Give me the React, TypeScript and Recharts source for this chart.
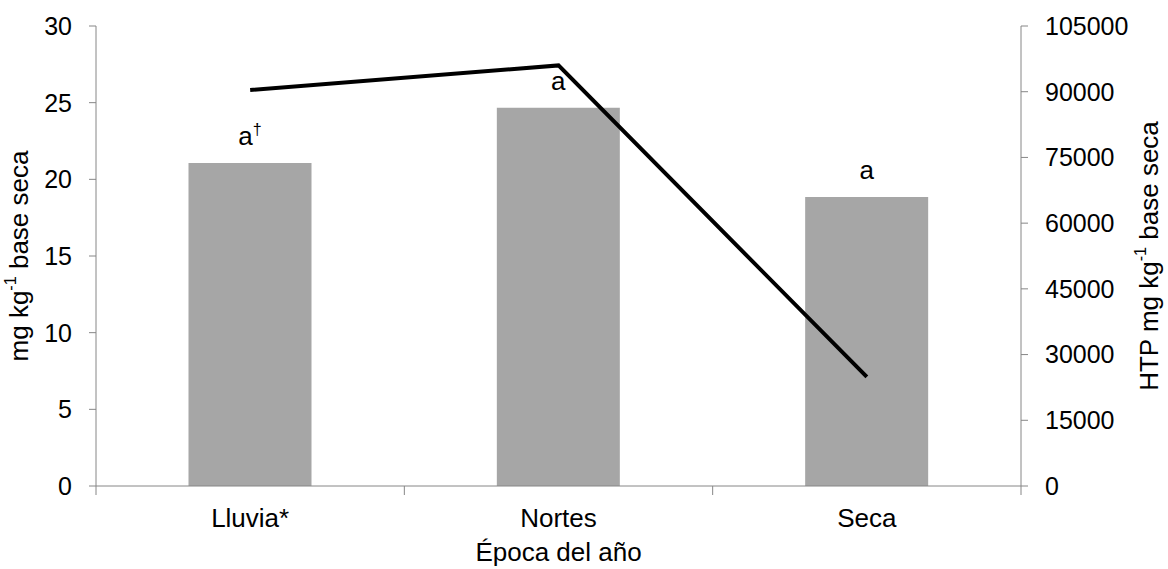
import React from 'react';
import { ComposedChart, Bar, Line, XAxis, YAxis, LabelList } from 'recharts';

const categories = ['Lluvia*', 'Nortes', 'Seca'];
const barValues = [21.07, 24.67, 18.85];
const lineValues = [90400, 96000, 24900];
const barLabels = ['a', 'a', 'a'];
const barLabelSups = ['†', '', ''];
const leftTicks = [0, 5, 10, 15, 20, 25, 30];
const rightTicks = [0, 15000, 30000, 45000, 60000, 75000, 90000, 105000];
const leftTitle = ['mg kg', '-1', ' base seca'];
const rightTitle = ['HTP mg kg', '-1', ' base seca'];
const xTitle = 'Época del año';

const data = categories.map((c, i) => ({ name: c, bar: barValues[i], line: lineValues[i] }));

const FONT = '"Liberation Sans", Arial, sans-serif';
const AXIS = '#868686';
const FS = 25;
const FT = 26;

const XTick = (props: any) => {
  const { x, y, payload, index, visibleTicksCount } = props;
  const off = payload && payload.offset ? payload.offset : 0;
  const last = index === visibleTicksCount - 1;
  return (
    <g>
      {off ? <line x1={x - off} x2={x - off} y1={y} y2={y + 9} stroke={AXIS} strokeWidth={1} /> : null}
      {off && last ? <line x1={x + off} x2={x + off} y1={y} y2={y + 9} stroke={AXIS} strokeWidth={1} /> : null}
      <text x={x} y={y + 41} textAnchor="middle" fontFamily={FONT} fontSize={FT} fill="#000">
        {payload.value}
      </text>
    </g>
  );
};

const YTitle = (parts: string[], cxFn: (vb: any) => number) => (props: any) => {
  const vb = props.viewBox || {};
  const cx = cxFn(vb);
  const cy = vb.y + vb.height / 2;
  return (
    <text
      x={cx}
      y={cy}
      transform={`rotate(-90, ${cx}, ${cy})`}
      textAnchor="middle"
      dominantBaseline="central"
      fontFamily={FONT}
      fontSize={FT}
      fill="#000"
    >
      {parts[0]}
      <tspan fontSize={FT * 0.62} dy={-9}>{parts[1]}</tspan>
      <tspan dy={9}>{parts[2]}</tspan>
    </text>
  );
};

const XTitle = (props: any) => {
  const vb = props.viewBox || {};
  return (
    <text x={vb.x + vb.width / 2} y={561} textAnchor="middle" fontFamily={FONT} fontSize={FT} fill="#000">
      {xTitle}
    </text>
  );
};

const BarLabel = (props: any) => {
  const { x, y, width, index } = props;
  const cx = x + width / 2;
  const sup = barLabelSups[index];
  return (
    <text x={cx} y={y - 18} textAnchor="middle" fontFamily={FONT} fontSize={FT} fill="#000">
      {barLabels[index]}
      {sup ? <tspan fontSize={FT * 0.62} dy={-10}>{sup}</tspan> : null}
    </text>
  );
};

export default function App() {
  return (
    <div style={{ position: 'absolute', left: 0, top: 0, background: '#fff' }}>
      <ComposedChart
        width={1168}
        height={569}
        data={data}
        margin={{ top: 26, right: 0, bottom: 0, left: 0 }}
        barCategoryGap="30%"
      >
        <XAxis
          dataKey="name"
          height={83}
          stroke={AXIS}
          tickLine={false}
          tickSize={0}
          tickMargin={0}
          tick={<XTick />}
          interval={0}
          label={<XTitle />}
        />
        <YAxis
          yAxisId="left"
          orientation="left"
          width={96}
          domain={[0, 30]}
          ticks={leftTicks}
          interval={0}
          stroke={AXIS}
          tickSize={7}
          tickMargin={17}
          tick={{ fill: '#000', fontSize: FS, fontFamily: FONT }}
          label={YTitle(leftTitle, (vb) => 19)}
        />
        <YAxis
          yAxisId="right"
          orientation="right"
          width={147}
          domain={[0, 105000]}
          ticks={rightTicks}
          interval={0}
          stroke={AXIS}
          tickSize={7}
          tickMargin={17}
          tick={{ fill: '#000', fontSize: FS, fontFamily: FONT }}
          label={YTitle(rightTitle, (vb) => 1149)}
        />
        <Bar yAxisId="left" dataKey="bar" fill="#A6A6A6" isAnimationActive={false}>
          <LabelList dataKey="bar" content={<BarLabel />} />
        </Bar>
        <Line
          yAxisId="right"
          dataKey="line"
          stroke="#000"
          strokeWidth={4}
          dot={false}
          activeDot={false}
          type="linear"
          isAnimationActive={false}
        />
      </ComposedChart>
    </div>
  );
}
